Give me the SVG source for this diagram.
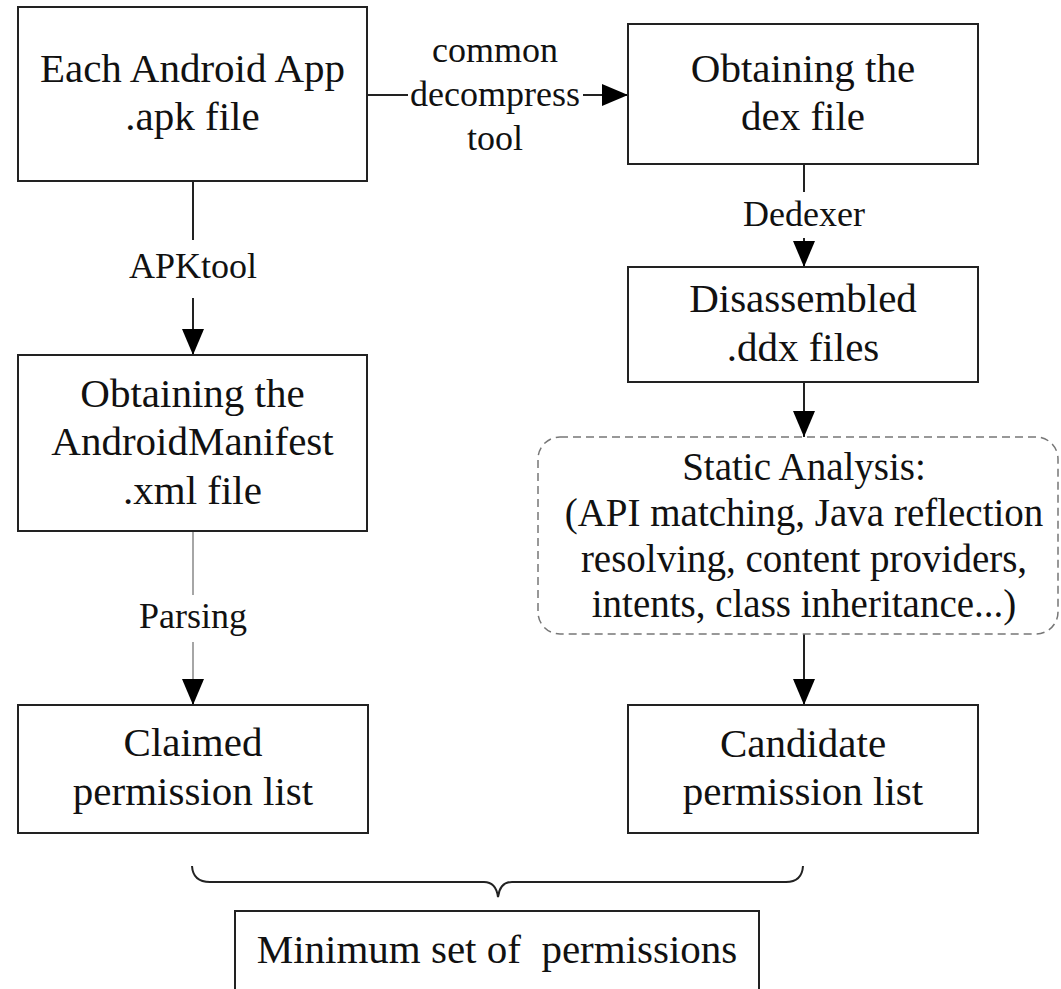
<svg xmlns="http://www.w3.org/2000/svg" width="1061" height="989" viewBox="0 0 1061 989">
<style>
.box{fill:#fff;stroke:#222;stroke-width:2}
.dash{fill:#fff;stroke:#777;stroke-width:1.5;stroke-dasharray:8 5}
.t{font-family:"Liberation Serif","Times New Roman",serif;font-size:41px;fill:#111;text-anchor:middle}
.s{font-size:39px}
.l{font-family:"Liberation Serif","Times New Roman",serif;font-size:36px;fill:#111;text-anchor:middle}
.c{fill:none;stroke:#222;stroke-width:2}
.g{fill:none;stroke:#888;stroke-width:1.5}
.ah{fill:#000}
</style>
<defs>
<marker id="arr" markerWidth="26" markerHeight="22" refX="26" refY="11" orient="auto" markerUnits="userSpaceOnUse">
<path class="ah" d="M0,0 L26,11 L0,22 Z"/>
</marker>
</defs>
<g id="connectors">
<line class="c" x1="367" y1="95" x2="408" y2="95"/>
<line class="c" x1="583" y1="95" x2="628" y2="95" marker-end="url(#arr)"/>
<text class="l" x="495" y="62">common</text>
<text class="l" x="495" y="106">decompress</text>
<text class="l" x="495" y="150">tool</text>
<line class="c" x1="193" y1="181" x2="193" y2="240"/>
<line class="c" x1="193" y1="298" x2="193" y2="355" marker-end="url(#arr)"/>
<text class="l" x="193" y="278">APKtool</text>
<line class="g" x1="193" y1="531" x2="193" y2="595"/>
<line class="g" x1="193" y1="642" x2="193" y2="690"/>
<line class="c" x1="193" y1="680" x2="193" y2="705" marker-end="url(#arr)"/>
<text class="l" x="193" y="628">Parsing</text>
<line class="c" x1="804" y1="164" x2="804" y2="192"/>
<line class="c" x1="804" y1="238" x2="804" y2="267" marker-end="url(#arr)"/>
<text class="l" x="804" y="226">Dedexer</text>
<line class="c" x1="804" y1="382" x2="804" y2="437" marker-end="url(#arr)"/>
<line class="c" x1="804" y1="634" x2="804" y2="705" marker-end="url(#arr)"/>
<path class="c" d="M192,866 Q193,882 210,882 L484,882 Q496,882 498,897 Q500,882 512,882 L786,882 Q802,882 803,866"/>
</g>
<g id="apk">
<rect class="box" x="18" y="7" width="349" height="174"/>
<text class="t" x="192.5" y="82">Each Android App</text>
<text class="t" x="192.5" y="130">.apk file</text>
</g>
<g id="dex">
<rect class="box" x="628" y="24" width="350" height="140"/>
<text class="t" x="803" y="82">Obtaining the</text>
<text class="t" x="803" y="130">dex file</text>
</g>
<g id="manifest">
<rect class="box" x="18" y="355" width="349" height="176"/>
<text class="t" x="192.5" y="407">Obtaining the</text>
<text class="t" x="192.5" y="455">AndroidManifest</text>
<text class="t" x="192.5" y="504">.xml file</text>
</g>
<g id="ddx">
<rect class="box" x="628" y="267" width="350" height="115"/>
<text class="t" x="803" y="312">Disassembled</text>
<text class="t" x="803" y="361">.ddx files</text>
</g>
<g id="static">
<rect class="dash" x="538" y="437" width="520" height="197" rx="22" ry="22"/>
<text class="t s" x="804" y="480">Static Analysis:</text>
<text class="t s" x="804" y="526">(API matching, Java reflection</text>
<text class="t s" x="804" y="572">resolving, content providers,</text>
<text class="t s" x="804" y="617">intents, class inheritance...)</text>
</g>
<g id="claimed">
<rect class="box" x="18" y="705" width="350" height="128"/>
<text class="t" x="193" y="756">Claimed</text>
<text class="t" x="193" y="805">permission list</text>
</g>
<g id="candidate">
<rect class="box" x="628" y="705" width="350" height="128"/>
<text class="t" x="803" y="757">Candidate</text>
<text class="t" x="803" y="805">permission list</text>
</g>
<g id="minimum">
<rect class="box" x="235" y="911" width="524" height="100"/>
<text class="t" x="497" y="963" style="white-space:pre">Minimum set of  permissions</text>
</g>
</svg>
